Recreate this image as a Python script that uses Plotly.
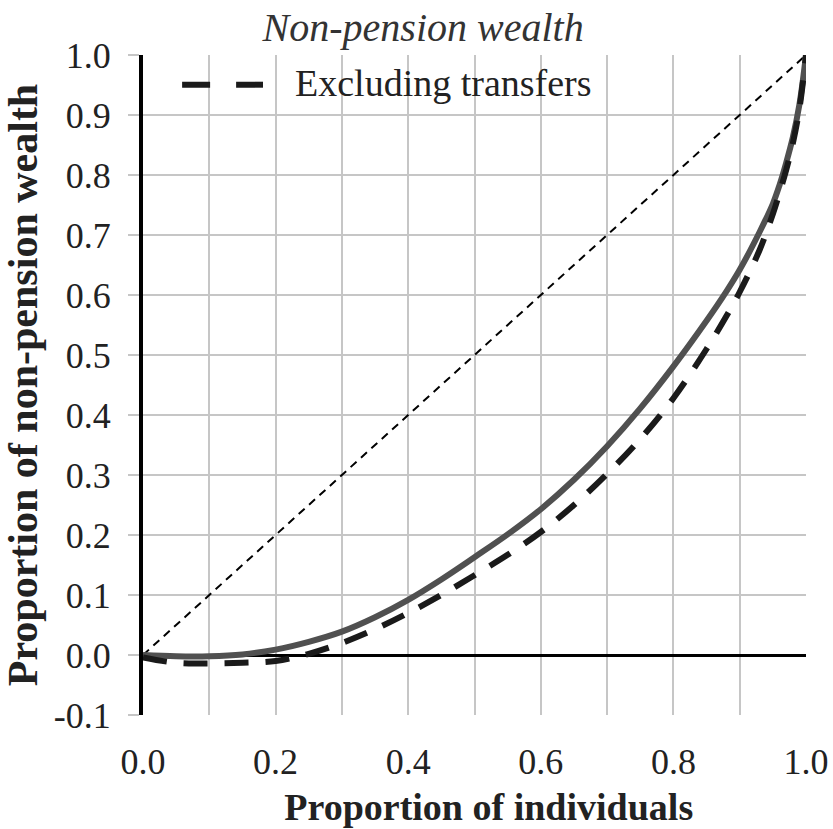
import plotly.graph_objects as go

x_share = [0, 0.05, 0.1, 0.15, 0.2, 0.25, 0.3, 0.35, 0.4, 0.45, 0.5, 0.55, 0.6, 0.65,
           0.7, 0.75, 0.8, 0.85, 0.88, 0.9, 0.93, 0.95, 0.96, 0.97, 0.98, 0.99, 1.0]
including = [0, -0.002, -0.002, 0.001, 0.009, 0.022, 0.039, 0.063, 0.092, 0.126, 0.163,
             0.201, 0.243, 0.292, 0.348, 0.411, 0.481, 0.557, 0.606, 0.642, 0.705, 0.752,
             0.783, 0.82, 0.862, 0.917, 1.0]
excluding = [-0.004, -0.013, -0.014, -0.013, -0.01, 0.002, 0.02, 0.043, 0.07, 0.10, 0.133,
             0.167, 0.205, 0.25, 0.302, 0.36, 0.428, 0.51, 0.565, 0.605, 0.675, 0.735,
             0.77, 0.808, 0.852, 0.91, 1.0]
equality_x = [0, 1]
equality_y = [0, 1]
grid_x = [0, 0.1, 0.2, 0.3, 0.4, 0.5, 0.6, 0.7, 0.8, 0.9, 1.0]
grid_x_text = ["0.0", "", "0.2", "", "0.4", "", "0.6", "", "0.8", "", "1.0"]
tick_vals_y = [-0.1, 0, 0.1, 0.2, 0.3, 0.4, 0.5, 0.6, 0.7, 0.8, 0.9, 1.0]
tick_text_y = ["-0.1", "0.0", "0.1", "0.2", "0.3", "0.4", "0.5", "0.6", "0.7", "0.8", "0.9", "1.0"]
legend_label = "Excluding transfers"

FONT = "Liberation Serif, Times New Roman, serif"
TXT = "#222222"

fig = go.Figure()
fig.add_trace(go.Scatter(x=equality_x, y=equality_y, mode="lines", showlegend=False,
                         line=dict(color="black", width=2, dash="8px,6px")))
fig.add_trace(go.Scatter(x=x_share, y=including, mode="lines", showlegend=False,
                         line=dict(color="#505050", width=6, shape="spline", smoothing=1)))
fig.add_trace(go.Scatter(x=x_share, y=excluding, mode="lines", name=legend_label,
                         showlegend=False,
                         line=dict(color="#1a1a1a", width=6, dash="24px,17px",
                                   shape="spline", smoothing=1)))

# legend drawn as a key (long dashed sample + label) like the original
fig.add_shape(type="line", xref="paper", yref="paper", x0=0.059, x1=0.181, y0=0.955, y1=0.955,
              line=dict(color="#1a1a1a", width=6, dash="28px,26px"))
fig.add_annotation(xref="paper", yref="paper", x=0.226, y=0.957, xanchor="left", yanchor="middle",
                   text=legend_label, showarrow=False, font=dict(size=38, color=TXT, family=FONT))

fig.update_layout(
    width=833, height=829,
    margin=dict(l=143, r=27, t=55, b=114, autoexpand=False),
    paper_bgcolor="white", plot_bgcolor="white",
    font=dict(family=FONT, size=36, color=TXT),
    title=dict(text="<i>Non-pension wealth</i>", x=0.508, xanchor="center",
               y=0.967, yanchor="middle", font=dict(size=40, color="#333333")),
    showlegend=False,
    xaxis=dict(range=[0, 1], tickvals=grid_x, ticktext=grid_x_text, automargin=False,
               showgrid=True, gridcolor="#c6c6c6", gridwidth=2, zeroline=False,
               showline=False, ticks="", ticklabelstandoff=22,
               tickfont=dict(size=36, color=TXT),
               title=dict(text="&nbsp;&nbsp;&nbsp;<b>Proportion of individuals</b>", standoff=12,
                          font=dict(size=38, color=TXT))),
    yaxis=dict(range=[-0.1, 1.0], tickvals=tick_vals_y, ticktext=tick_text_y, automargin=False,
               showgrid=True, gridcolor="#c6c6c6", gridwidth=2,
               zeroline=True, zerolinecolor="black", zerolinewidth=3,
               showline=True, linecolor="black", linewidth=4,
               ticks="outside", ticklen=11, tickcolor="#c6c6c6", tickwidth=2,
               ticklabelstandoff=10, tickfont=dict(size=36, color=TXT),
               title=dict(text="<b>Proportion of non-pension wealth</b>", standoff=8,
                          font=dict(size=42, color=TXT))),
)

fig.write_html("out.html", config={"displayModeBar": False},
               post_script="document.body.style.margin='0';"
                           "document.documentElement.style.overflow='hidden';")
